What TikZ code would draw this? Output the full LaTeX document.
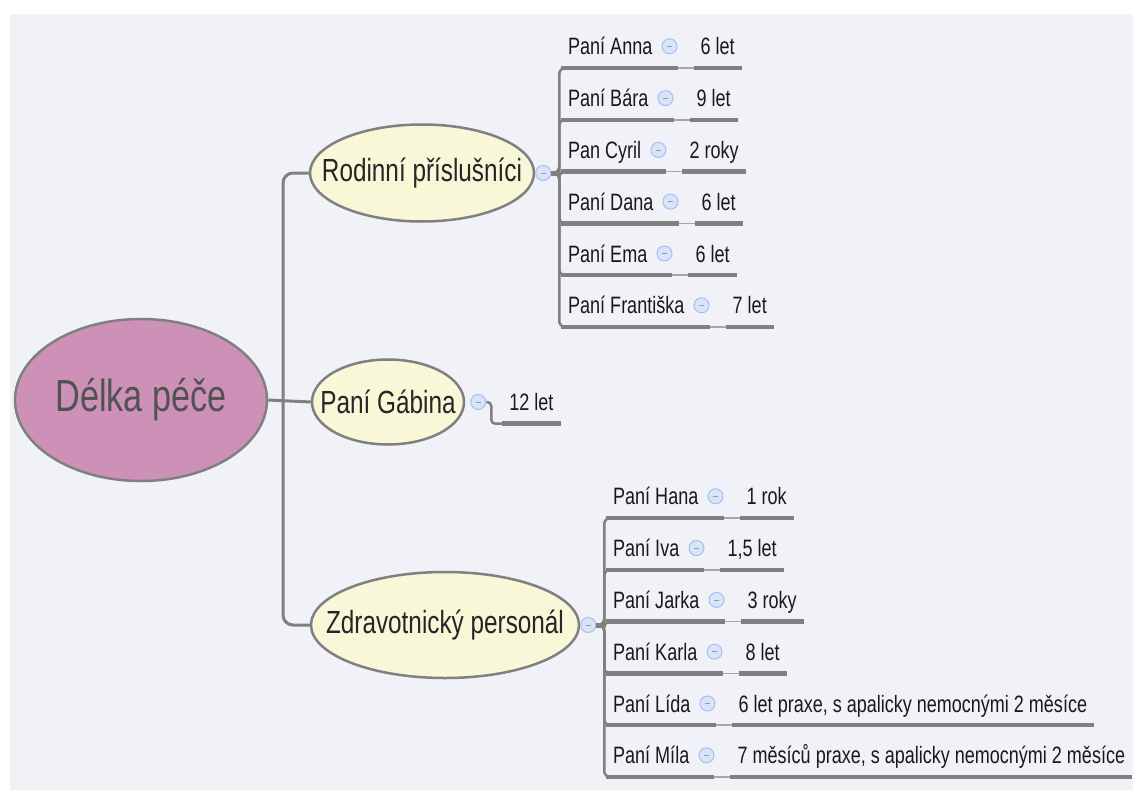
\documentclass[tikz,border=0pt]{standalone}
\usepackage{fontspec}
\setmainfont{Liberation Sans}[FakeStretch=0.76]
\usetikzlibrary{positioning,shapes.geometric}
\definecolor{canvasgray}{RGB}{241,242,247}
\definecolor{rootpink}{RGB}{205,145,183}
\definecolor{topicyellow}{RGB}{248,247,216}
\definecolor{edgegray}{RGB}{128,128,128}
\definecolor{inkgray}{RGB}{82,82,82}
\definecolor{knobblue}{RGB}{216,228,250}
\definecolor{knobline}{RGB}{165,192,238}

\begin{document}
\begin{tikzpicture}[x=1pt,y=-1pt,node distance=2pt,
    % text gets no width of its own, so the ellipse size is set by hand
    bubble/.style={ellipse,draw=edgegray,line width=2.5pt,inner sep=0pt,
      execute at begin node={\hbox to 0pt\bgroup\hss},
      execute at end node={\hss\egroup}},
    root/.style={bubble,fill=rootpink,text=inkgray,
      font=\fontsize{45}{52}\selectfont},
    topic/.style={bubble,fill=topicyellow,text=black!85,
      font=\fontsize{32}{38}\selectfont},
    knob/.style={circle,draw=knobline,fill=knobblue,line width=1pt,
      minimum width=14pt,minimum height=15pt,inner sep=0pt,
      path picture={\draw[edgegray!80,line width=0.8pt]
        ([xshift=-2.5pt]path picture bounding box.center) --
        ([xshift=2.5pt]path picture bounding box.center);}},
    leaf/.style={inner xsep=7pt,inner ysep=13pt,text height=17pt,
      text depth=0pt,text=black!90,font=\fontsize{23.7}{28}\selectfont},
    trunk/.style={draw=edgegray,line width=3pt,rounded corners=10pt},
    twig/.style={draw=edgegray,line width=2.5pt,rounded corners=6pt},
    uline/.style={draw=edgegray,line width=4.5pt},
    ulink/.style={draw=edgegray!70,line width=1.5pt}]
  \useasboundingbox (0,0) rectangle (1133,790);
  \fill[canvasgray] (10,14) rectangle (1133,790);

  % central topic and the three branches
  \node[root,minimum width=252pt,minimum height=162pt] (root) at (141,400) {Délka péče};
  \node[topic,minimum width=224pt,minimum height=97pt] (rodina) at (422,173) {Rodinní příslušníci};
  \node[topic,minimum width=152pt,minimum height=85pt] (gabina) at (388,402) {Paní Gábina};
  \node[topic,minimum width=268pt,minimum height=106pt] (zdrav) at (445,625) {Zdravotnický personál};
  \node[knob,right=0pt of rodina] (rodina-k) {};
  \node[knob,right=5pt of gabina] (gabina-k) {};
  \node[knob,right=0pt of zdrav] (zdrav-k) {};

  \coordinate (fork) at (283,400);
  \draw[trunk] (rodina.west) -| (fork) |- (zdrav.west);
  \draw[trunk] (root.east) -- (gabina.west);

  % single leaf of Paní Gábina
  \node[leaf,right=16pt of gabina-k] (gabina-v) {12 let};
  \draw[twig,rounded corners=4pt] (gabina-k.east) -- ++(5,0) |- (gabina-v.south west);
  \draw[uline] (gabina-v.south west) -- (gabina-v.south east);

  % family members
  \draw[uline,line width=5pt] (rodina-k.east) -- ++(8,0);
  \foreach \n/\v [count=\i] in {Paní Anna/6 let,Paní Bára/9 let,Pan Cyril/2 roky,
      Paní Dana/6 let,Paní Ema/6 let,Paní Františka/7 let} {
    \node[leaf,anchor=south west] (r\i) at ({561},{68+51.8*(\i-1)}) {\n};
    \node[knob,right=2pt of r\i] (r\i-k) {};
    \node[leaf,right=16pt of r\i-k] (r\i-v) {\v};
    \draw[twig] (rodina-k.east) -- ++(8,0) |- (r\i.south west);
    \draw[uline] (r\i.south west) -- (r\i.south -| r\i-k.east);
    \draw[ulink] (r\i.south -| r\i-k.east) -- (r\i-v.south west);
    \draw[uline] (r\i-v.south west) -- (r\i-v.south east);
  }

  % health staff
  \draw[uline,line width=5pt] (zdrav-k.east) -- ++(8,0);
  \foreach \n/\v [count=\i] in {Paní Hana/1 rok,Paní Iva/{1,5 let},Paní Jarka/3 roky,
      Paní Karla/8 let,Paní Lída/{6 let praxe, s apalicky nemocnými 2 měsíce},
      Paní Míla/{7 měsíců praxe, s apalicky nemocnými 2 měsíce}} {
    \node[leaf,anchor=south west] (z\i) at ({606},{518+51.8*(\i-1)}) {\n};
    \node[knob,right=2pt of z\i] (z\i-k) {};
    \node[leaf,right=16pt of z\i-k] (z\i-v) {\v};
    \draw[twig] (zdrav-k.east) -- ++(8,0) |- (z\i.south west);
    \draw[uline] (z\i.south west) -- (z\i.south -| z\i-k.east);
    \draw[ulink] (z\i.south -| z\i-k.east) -- (z\i-v.south west);
    \draw[uline] (z\i-v.south west) -- (z\i-v.south east);
  }
\end{tikzpicture}
\end{document}
